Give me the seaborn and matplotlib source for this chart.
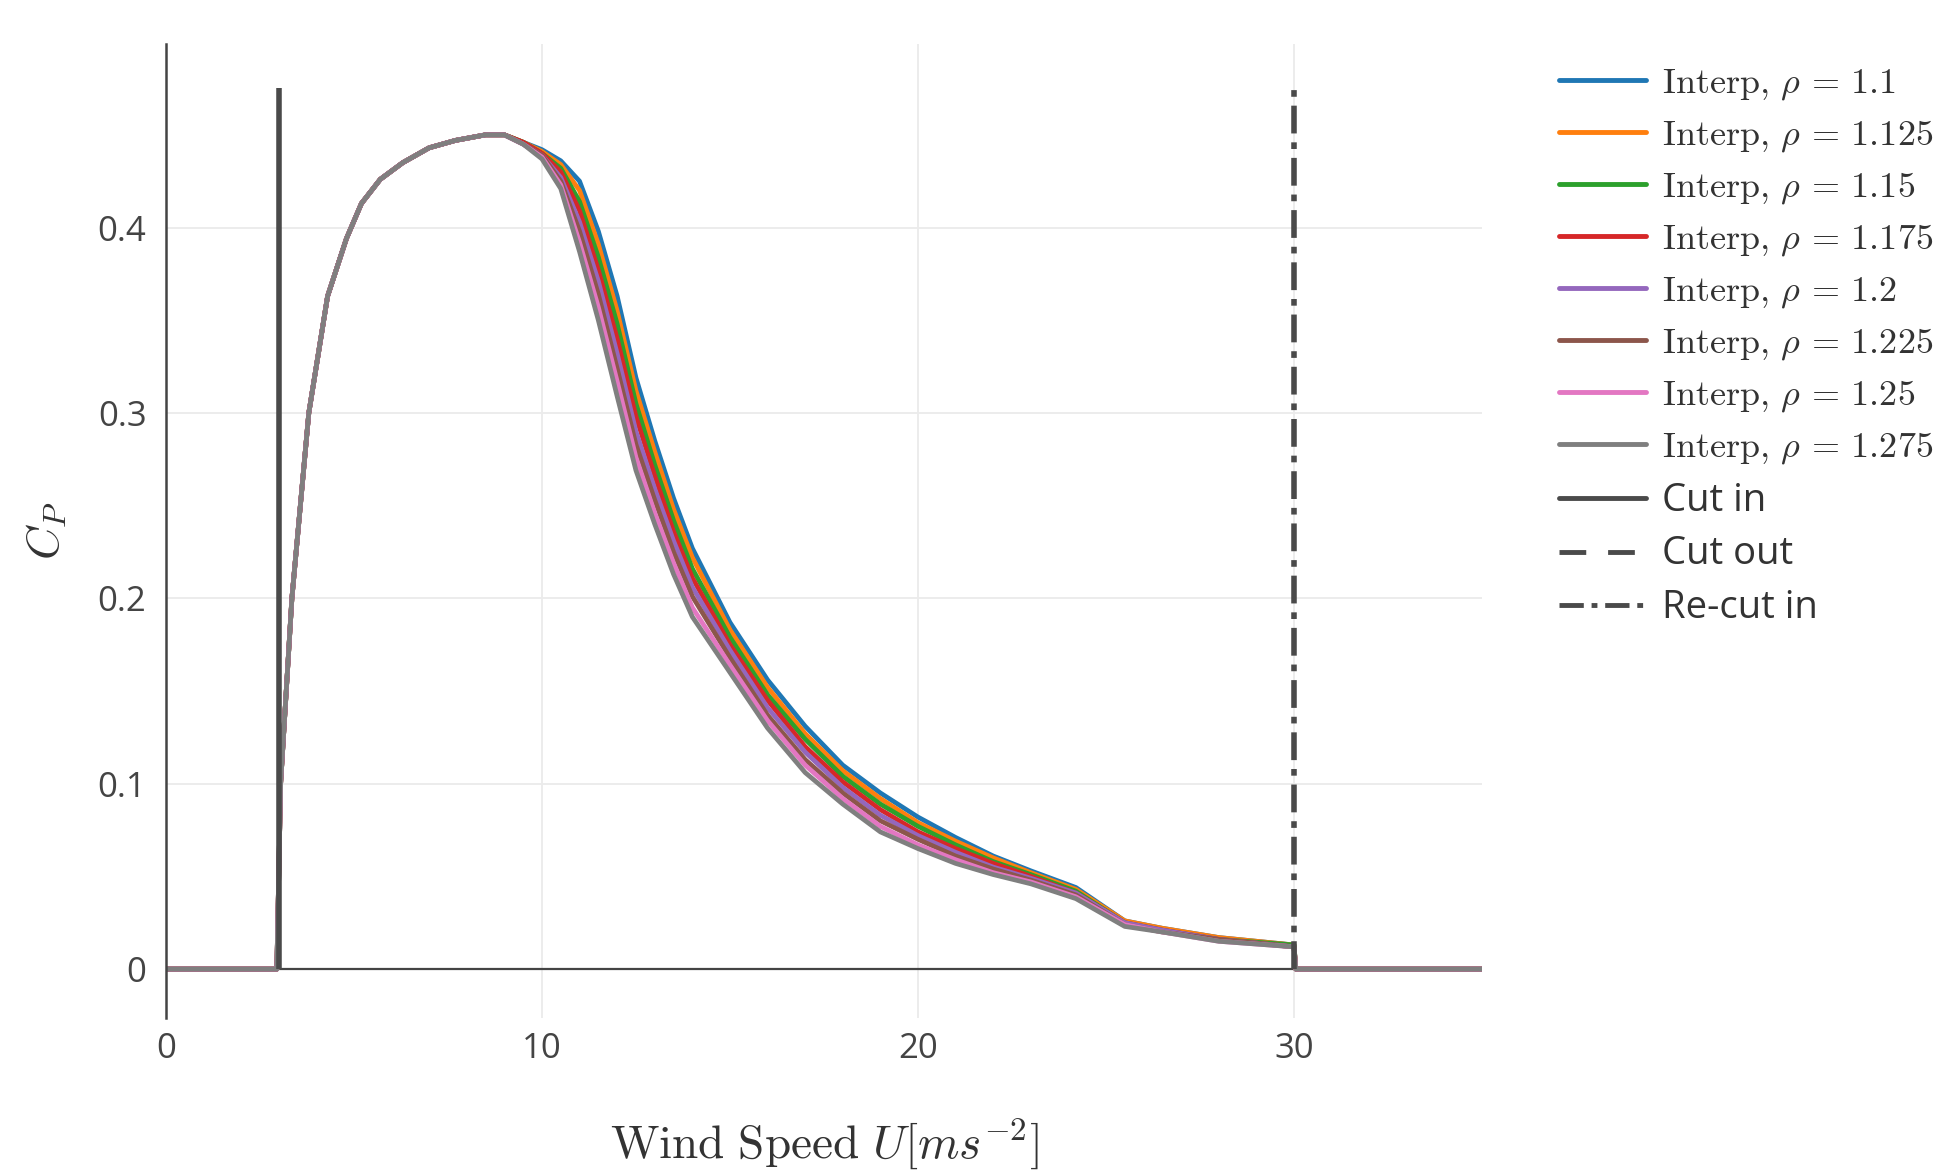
import numpy as np
import pandas as pd
import matplotlib
matplotlib.use("Agg")
import matplotlib.pyplot as plt
import seaborn as sns
from matplotlib.lines import Line2D

# ========================= DATEN =========================
rho_labels = ["1.1", "1.125", "1.15", "1.175", "1.2", "1.225", "1.25", "1.275"]

# gemeinsamer Anstieg (alle Dichten liegen hier aufeinander)
u_rise = [0.0, 2.95, 3.05, 3.35, 3.8, 4.3, 4.8, 5.2, 5.7, 6.3, 7.0, 7.7, 8.5, 9.0]
cp_rise = [0.0, 0.0, 0.10, 0.20, 0.30, 0.363, 0.394, 0.413, 0.426, 0.435, 0.443, 0.447, 0.450, 0.450]

# abfallender Ast, je Dichte verschieden
u_tail = [9.5, 10.0, 10.5, 11.0, 11.5, 12.0, 12.5, 13.0, 13.5, 14.0, 15.0, 16.0,
          17.0, 18.0, 19.0, 20.0, 21.0, 22.0, 23.0, 24.2, 25.5, 26.5, 28.0, 30.0]
cp_tail_1100 = [.446, .442, .436, .425, .398, .363, .319, .285, .254, .227, .187, .156,
                .131, .110, .095, .082, .071, .061, .053, .044, .026, .022, .017, .013]
cp_tail_1125 = [.446, .441, .434, .420, .391, .355, .312, .279, .248, .222, .183, .152,
                .127, .107, .092, .079, .069, .060, .052, .043, .026, .022, .017, .013]
cp_tail_1150 = [.446, .440, .432, .414, .384, .348, .305, .272, .242, .216, .179, .148,
                .124, .104, .089, .077, .067, .058, .051, .042, .025, .021, .016, .013]
cp_tail_1175 = [.446, .440, .430, .409, .377, .340, .298, .266, .236, .211, .175, .145,
                .120, .101, .086, .074, .065, .057, .050, .041, .025, .021, .016, .012]
cp_tail_1200 = [.445, .439, .427, .403, .371, .332, .290, .259, .231, .206, .172, .141,
                .117, .098, .083, .072, .063, .055, .049, .041, .025, .021, .016, .012]
cp_tail_1225 = [.445, .439, .425, .398, .364, .324, .283, .253, .225, .201, .168, .137,
                .113, .095, .080, .070, .061, .054, .048, .040, .024, .020, .016, .012]
cp_tail_1250 = [.445, .438, .423, .392, .357, .317, .276, .246, .219, .195, .164, .134,
                .110, .092, .077, .067, .059, .052, .047, .039, .024, .020, .015, .012]
cp_tail_1275 = [.445, .437, .421, .387, .350, .309, .269, .240, .213, .190, .160, .130,
                .106, .089, .074, .065, .057, .051, .046, .038, .023, .020, .015, .012]

# nach der Abschaltung
u_off = [30.05, 35.0]
cp_off = [0.0, 0.0]

cut_in_speed = 3.0
re_cut_in_speed = 30.0
cut_line_top = 0.475

# ========================= DATAFRAME =========================
tails = [cp_tail_1100, cp_tail_1125, cp_tail_1150, cp_tail_1175,
         cp_tail_1200, cp_tail_1225, cp_tail_1250, cp_tail_1275]
rows = []
for rho, tail in zip(rho_labels, tails):
    u_all = u_rise + u_tail + u_off
    cp_all = cp_rise + tail + cp_off
    for u, cp in zip(u_all, cp_all):
        rows.append({"u": u, "cp": cp, "rho": rho})
df = pd.DataFrame(rows)

# ========================= PLOT =========================
sns.set_theme(style="white")
plt.rcParams["font.family"] = ["Open Sans", "DejaVu Sans"]
plt.rcParams["mathtext.fontset"] = "cm"

dark = "#444444"
palette = sns.color_palette("tab10", 8)

fig = plt.figure(figsize=(19.59, 11.70), dpi=100)
ax = fig.add_axes([0.0847, 0.1299, 0.6718, 0.8325])

ax.grid(True, color="#ebebeb", lw=1.3)
ax.axhline(0, color=dark, lw=1.6, zorder=1.5)

sns.lineplot(data=df, x="u", y="cp", hue="rho", palette=palette, hue_order=rho_labels,
             sort=False, estimator=None, lw=3.4, legend=False, ax=ax, zorder=2)

ax.vlines(cut_in_speed, 0, cut_line_top, color="#4a4a4a", lw=4.0, zorder=3)
ax.vlines(re_cut_in_speed, 0, cut_line_top, color="#4a4a4a", lw=4.0, zorder=3,
          linestyles=[(0, (5, 1.6, 1.2, 1.6))])

ax.set_xlim(0, 35)
ax.set_ylim(-0.0264, 0.499)
ax.set_xticks([0, 10, 20, 30])
ax.set_xticklabels(["0", "10", "20", "30"])
ax.set_yticks([0, 0.1, 0.2, 0.3, 0.4])
ax.set_yticklabels(["0", "0.1", "0.2", "0.3", "0.4"])
ax.tick_params(axis="both", length=0, labelsize=25, labelcolor=dark)
ax.tick_params(axis="x", pad=10)
ax.tick_params(axis="y", pad=14)

for s in ["top", "right", "bottom"]:
    ax.spines[s].set_visible(False)
ax.spines["left"].set_color(dark)
ax.spines["left"].set_linewidth(1.8)

ax.set_xlabel(r"$\mathrm{Wind\ Speed}\ U[ms^{-2}]$", fontsize=34, color="#333333")
ax.xaxis.label.set_va("center")
ax.xaxis.set_label_coords(0.5, -0.129)
ax.set_ylabel(r"$C_P$", fontsize=33, color="#333333")
ax.yaxis.label.set_va("center")
ax.yaxis.set_label_coords(-0.0904, 0.5)

# Legende
handles = [Line2D([], [], color=c, lw=3.5) for c in palette]
labels = [r"$\mathrm{Interp},\,\rho\,=\," + r + "$" for r in rho_labels]
handles += [Line2D([], [], color="#4a4a4a", lw=3.5),
            Line2D([], [], color="#4a4a4a", lw=3.5, ls=(0, (5.5, 4.5))),
            Line2D([], [], color="#4a4a4a", lw=3.5, ls=(0, (5, 1.6, 1.2, 1.6)))]
labels += ["Cut in", "Cut out", "Re-cut in"]
leg = fig.legend(handles, labels, loc="upper left", bbox_to_anchor=(0.7958, 0.9437),
                 bbox_transform=fig.transFigure, frameon=False, fontsize=26,
                 handlelength=2.41, handletextpad=0.45, labelspacing=0.43,
                 borderpad=0, borderaxespad=0, labelcolor="#333333")
for t in leg.get_texts()[8:]:
    t.set_fontsize(27.5)

fig.savefig("out.png", dpi=100)
